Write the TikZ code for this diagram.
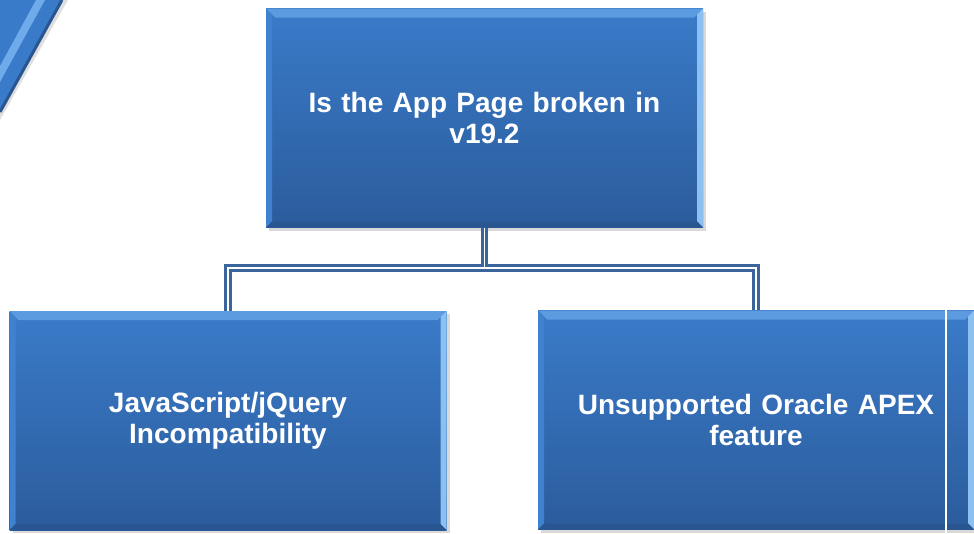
\documentclass[tikz,border=0pt]{standalone}
\usepackage{fontspec}
\setmainfont{Liberation Sans}
\usetikzlibrary{shadows,calc}
\definecolor{boxtop}{HTML}{3A7BC9}
\definecolor{boxbot}{HTML}{2B5C9C}
\definecolor{bevtop}{HTML}{5C9BE0}
\definecolor{bevright}{HTML}{8CC0F0}
\definecolor{bevleft}{HTML}{3F82CF}
\definecolor{bevbot}{HTML}{295690}
\definecolor{conn}{HTML}{3A649C}
\definecolor{decostripe}{HTML}{6FAAEB}
\tikzset{
  x=1pt,y=-1pt,
  bluebox/.style={rectangle, inner sep=0pt, minimum width=437pt, minimum height=219pt,
    top color=boxtop, bottom color=boxbot, draw=none,
    text=white, align=center, text width=420pt,
    font=\fontsize{28}{31}\selectfont\bfseries,
    drop shadow={opacity=0.3, shadow xshift=3pt, shadow yshift=-3pt},
    path picture={
      \coordinate (pnw) at (path picture bounding box.north west);
      \coordinate (pne) at (path picture bounding box.north east);
      \coordinate (psw) at (path picture bounding box.south west);
      \coordinate (pse) at (path picture bounding box.south east);
      \fill[bevtop] (pnw) -- (pne) -- ($(pne)+(-9,9)$) -- ($(pnw)+(9,9)$) -- cycle;
      \fill[bevright] (pne) -- (pse) -- ($(pse)+(-6,-6)$) -- ($(pne)+(-6,6)$) -- cycle;
      \fill[bevleft] (pnw) -- (psw) -- ($(psw)+(6,-6)$) -- ($(pnw)+(6,6)$) -- cycle;
      \fill[bevbot] (psw) -- (pse) -- ($(pse)+(-6,-6)$) -- ($(psw)+(6,-6)$) -- cycle;
    }},
  connline/.style={draw=conn, line width=3pt, double=white, double distance=1.4pt}
}
\begin{document}
\begin{tikzpicture}
\useasboundingbox (0,0) rectangle (974,533);
% top-left decoration
\fill[black!25, opacity=0.5] (0,0) -- (68,0) -- (0,120) -- cycle;
\fill[boxtop] (0,0) -- (62,0) -- (0,112) -- cycle;
\fill[decostripe] (36,0) -- (45,0) -- (0,82) -- (0,66) -- cycle;
\draw[bevbot, line width=3pt] (62,0) -- (0,112);
% boxes
\node[bluebox] (top) at (484.5,118) {Is the App Page broken in\\v19.2};
\node[bluebox] (left) at (228,420.5) {JavaScript/jQuery\\Incompatibility};
\node[bluebox, minimum width=436pt] (right) at (756,420) {Unsupported Oracle APEX\\feature};
% connectors
\coordinate (hub) at (484.5,268);
\draw[connline] (top.south) -- (hub) -| (left.north);
\draw[connline] (hub) -| (right.north);
% thin white line at right edge
\draw[white, line width=1.6pt] (946,309) -- (946,533);
\end{tikzpicture}
\end{document}
